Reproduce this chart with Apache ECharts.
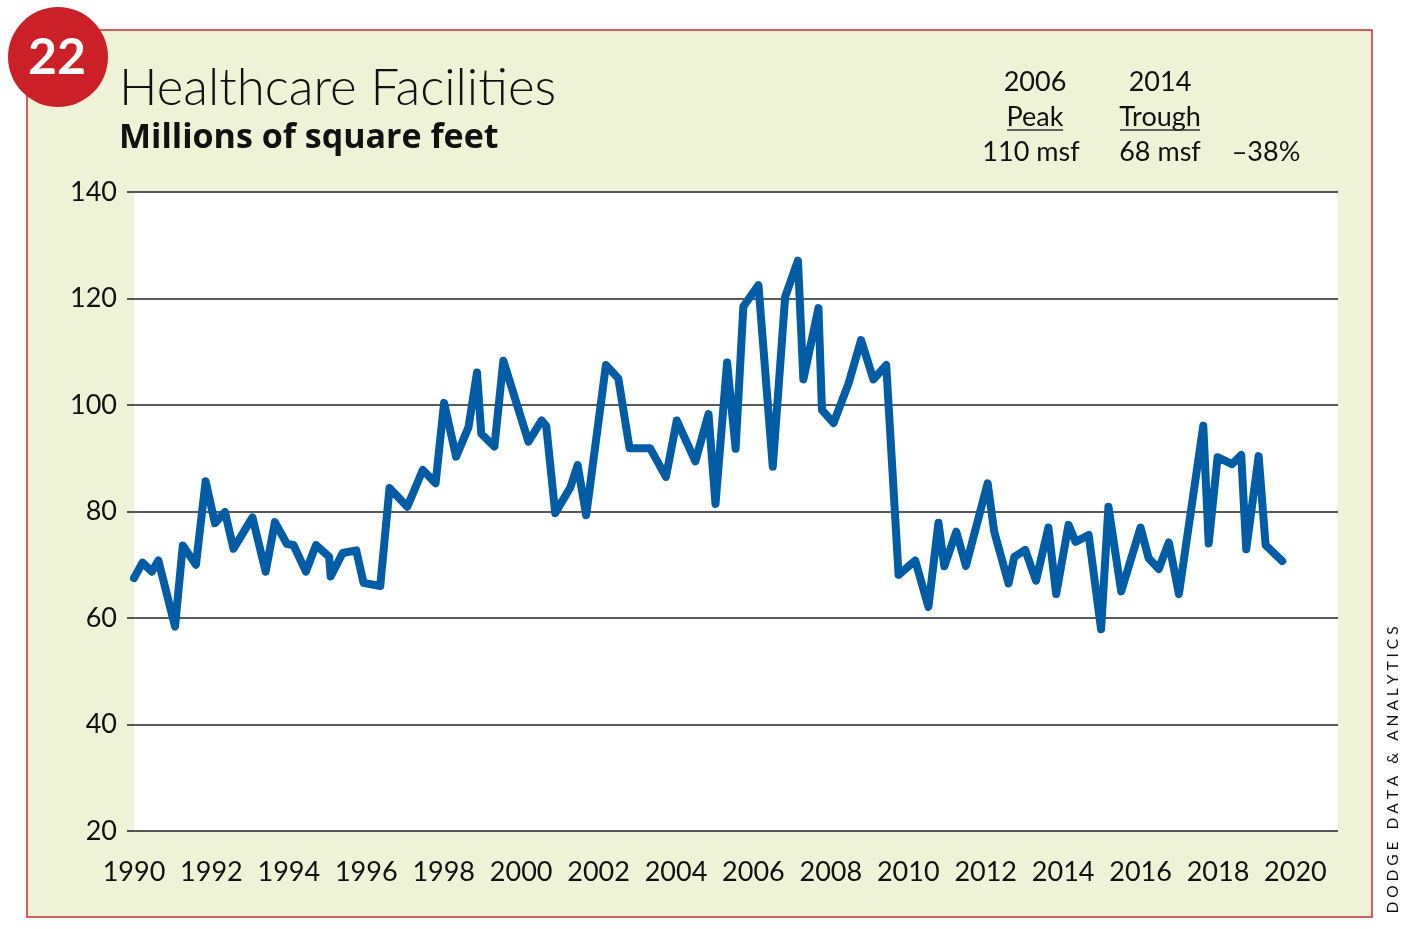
<!DOCTYPE html>
<html>
<head>
<meta charset="utf-8">
<script src="https://cdn.jsdelivr.net/npm/echarts@6/dist/echarts.min.js"></script>
<style>
html,body{margin:0;padding:0;background:#fff;}
#c{width:1412px;height:929px;}
</style>
</head>
<body>
<div id="c"></div>
<script>
// Decimal years
const years = [1990.0,1990.22,1990.46,1990.63,1991.06,1991.26,1991.60,1991.85,1992.09,1992.35,
1992.57,1993.06,1993.40,1993.64,1993.95,1994.12,1994.44,1994.70,1995.04,1995.08,
1995.39,1995.74,1995.93,1996.36,1996.60,1997.06,1997.46,1997.79,1998.01,1998.32,
1998.64,1998.86,1998.97,1999.31,1999.54,2000.19,2000.53,2000.65,2000.88,2001.27,
2001.46,2001.68,2002.19,2002.51,2002.80,2003.33,2003.74,2004.02,2004.50,2004.84,
2005.02,2005.32,2005.54,2005.74,2006.13,2006.50,2006.82,2007.15,2007.29,2007.68,
2007.77,2008.07,2008.46,2008.78,2009.10,2009.43,2009.75,2010.18,2010.52,2010.78,
2010.93,2011.24,2011.49,2012.05,2012.22,2012.59,2012.74,2013.02,2013.30,2013.62,
2013.82,2014.14,2014.32,2014.66,2014.98,2015.17,2015.50,2016.00,2016.21,2016.47,
2016.73,2016.99,2017.62,2017.76,2017.99,2018.36,2018.60,2018.73,2019.05,2019.23,2019.66];
// Millions of square feet
const values = [67.5,70.4,68.7,70.8,58.4,73.6,70.0,85.7,77.8,79.9,
73.0,78.9,68.7,78.0,73.9,73.7,68.7,73.7,71.5,67.8,
72.2,72.7,66.6,66.0,84.4,80.9,87.8,85.3,100.4,90.3,
95.8,106.1,94.6,92.2,108.3,93.1,97.1,96.0,79.7,84.5,
88.7,79.3,107.5,105.0,91.9,91.9,86.5,97.1,89.4,98.3,
81.4,108.0,91.8,118.5,122.5,88.4,120.3,127.1,104.8,118.2,
99.1,96.6,104.1,112.2,104.8,107.5,68.1,70.8,62.1,77.9,
69.7,76.2,69.8,85.3,76.2,66.5,71.5,72.8,67.0,77.0,
64.5,77.5,74.3,75.6,57.9,80.9,65.0,77.0,71.2,69.2,
74.2,64.5,96.1,74.0,90.2,88.9,90.6,72.9,90.4,73.7,70.7];
const yTicks = [20,40,60,80,100,120,140];
const xTicks = [1990,1992,1994,1996,1998,2000,2002,2004,2006,2008,2010,2012,2014,2016,2018,2020];

const FONT = 'Lato, "Open Sans", sans-serif';
const seriesData = years.map((y,i)=>[y, values[i]]);

const chart = echarts.init(document.getElementById('c'), null, {renderer:'canvas'});
chart.setOption({
  backgroundColor:'#fff',
  animation:false,
  graphic:[
    {type:'rect', z:-10, shape:{x:27,y:30,width:1345,height:887}, style:{fill:'#eef3d8', stroke:'#d32a32', lineWidth:1.5}},
    {type:'circle', z:10, shape:{cx:58,cy:57,r:50}, style:{fill:'#cc2029'}},
    {type:'text', z:11, x:57, y:58, style:{text:'22', fill:'#fff', font:'bold 50px '+FONT, textAlign:'center', textVerticalAlign:'middle'}},
    {type:'text', x:119, y:89, style:{text:'Healthcare Facilities', fill:'#111', font:'300 51px '+FONT, textVerticalAlign:'middle'}},
    {type:'text', x:119, y:138, style:{text:'Millions of square feet', fill:'#111', font:'bold 34px "Open Sans", sans-serif', textVerticalAlign:'middle'}},
    {type:'text', x:1035, y:82, style:{text:'2006', fill:'#111', font:'27px '+FONT, textAlign:'center', textVerticalAlign:'middle'}},
    {type:'text', x:1035, y:117, style:{text:'Peak', fill:'#111', font:'27px '+FONT, textAlign:'center', textVerticalAlign:'middle'}},
    {type:'line', shape:{x1:1007,y1:130,x2:1063,y2:130}, style:{stroke:'#333', lineWidth:1.5}},
    {type:'text', x:1031, y:152, style:{text:'110 msf', fill:'#111', font:'27px '+FONT, textAlign:'center', textVerticalAlign:'middle'}},
    {type:'text', x:1160, y:82, style:{text:'2014', fill:'#111', font:'27px '+FONT, textAlign:'center', textVerticalAlign:'middle'}},
    {type:'text', x:1160, y:117, style:{text:'Trough', fill:'#111', font:'27px '+FONT, textAlign:'center', textVerticalAlign:'middle'}},
    {type:'line', shape:{x1:1120,y1:130,x2:1200,y2:130}, style:{stroke:'#333', lineWidth:1.5}},
    {type:'text', x:1160, y:152, style:{text:'68 msf', fill:'#111', font:'27px '+FONT, textAlign:'center', textVerticalAlign:'middle'}},
    {type:'text', x:1266, y:152, style:{text:'\u201338%', fill:'#111', font:'27px '+FONT, textAlign:'center', textVerticalAlign:'middle'}},
    {type:'text', x:1393, y:770, rotation:Math.PI/2, style:{text:'D O D G E   D A T A   &   A N A L Y T I C S', fill:'#111', font:'15.5px '+FONT, textAlign:'center', textVerticalAlign:'middle'}}
  ],
  grid:{left:134, right:74, top:192, bottom:98, show:true, backgroundColor:'#fff', borderWidth:0},
  xAxis:{
    type:'value', min:1990, max:2021.1, interval:2,
    axisLine:{show:false}, axisTick:{show:false}, splitLine:{show:false},
    axisLabel:{showMaxLabel:false, margin:28, color:'#111', fontSize:27, fontFamily:FONT,
      formatter:v=> xTicks.indexOf(v)>=0 ? String(v) : ''}
  },
  yAxis:{
    type:'value', min:20, max:140, interval:20,
    axisLine:{show:false},
    axisTick:{show:true, length:7, lineStyle:{color:'#222', width:1.5}},
    splitLine:{show:true, lineStyle:{color:'#222', width:1.5}},
    axisLabel:{margin:17, color:'#111', fontSize:27, fontFamily:FONT,
      formatter:v=> yTicks.indexOf(v)>=0 ? String(v) : ''}
  },
  series:[{
    type:'line', data:seriesData, showSymbol:false, symbol:'none',
    lineStyle:{color:'#005ca5', width:8, cap:'round', join:'round'},
    z:5
  }]
});
</script>
</body>
</html>
